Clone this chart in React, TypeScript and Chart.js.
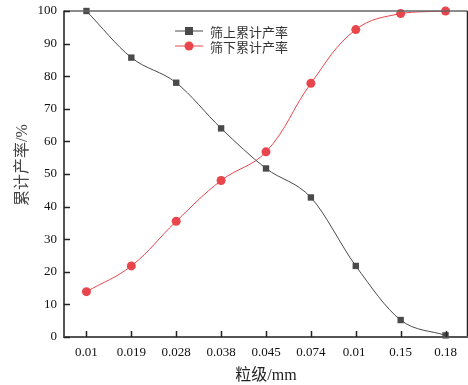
import React, { useEffect, useRef } from "react";
import { Chart, registerables } from "chart.js";

Chart.register(...registerables);

const categories = ["0.01", "0.019", "0.028", "0.038", "0.045", "0.074", "0.01 ", "0.15", "0.18"];
const upperLabel = "筛上累计产率";
const lowerLabel = "筛下累计产率";
const yTitle = "累计产率/%";
const xTitle = "粒级/mm";
const upperValues = [100, 85.7, 78, 64, 51.7, 42.8, 21.8, 5.2, 0.5];
const lowerValues = [13.9, 21.8, 35.5, 48, 56.8, 77.8, 94.3, 99.2, 100];
const yTicks = [0, 10, 20, 30, 40, 50, 60, 70, 80, 90, 100];

const DARK = "#4a4a4a";
const RED = "#e8464c";
const SERIF_CJK = "'Liberation Serif', 'Noto Sans CJK SC'";

const framePlugin = {
  id: "frame",
  afterDraw(chart: any) {
    const { ctx, chartArea } = chart;
    const { left, top, bottom } = chartArea;
    const right = 467.5;
    const x = chart.scales.x;
    const y = chart.scales.y;
    ctx.save();
    ctx.lineWidth = 1.5;
    ctx.strokeStyle = "#666";
    ctx.beginPath();
    ctx.moveTo(left, top);
    ctx.lineTo(right, top);
    ctx.stroke();
    ctx.strokeStyle = "#222";
    ctx.beginPath();
    ctx.moveTo(right, top);
    ctx.lineTo(right, bottom);
    ctx.stroke();
    ctx.lineWidth = 2;
    ctx.strokeStyle = "#555";
    ctx.beginPath();
    ctx.moveTo(left, top - 0.5);
    ctx.lineTo(left, bottom);
    ctx.lineTo(right + 0.5, bottom);
    ctx.stroke();
    ctx.lineWidth = 1.5;
    ctx.strokeStyle = "#222";
    yTicks.forEach((v) => {
      const py = Math.round(y.getPixelForValue(v)) + 0.5;
      ctx.beginPath();
      ctx.moveTo(left, py);
      ctx.lineTo(left + 6, py);
      ctx.stroke();
    });
    categories.forEach((_, i) => {
      const px = Math.round(x.getPixelForValue(i)) + 0.5;
      ctx.beginPath();
      ctx.moveTo(px, bottom);
      ctx.lineTo(px, bottom - 6);
      ctx.stroke();
    });
    ctx.save();
    ctx.translate(23, 165);
    ctx.rotate(-Math.PI / 2);
    ctx.fillStyle = "#444";
    ctx.font = `16px ${SERIF_CJK}`;
    ctx.textAlign = "center";
    ctx.textBaseline = "middle";
    ctx.fillText(yTitle, 0, 0);
    ctx.restore();
    const items = [
      { label: upperLabel, color: DARK, shape: "rect" },
      { label: lowerLabel, color: RED, shape: "circle" },
    ];
    items.forEach((it, i) => {
      const ly = 31 + i * 15;
      ctx.strokeStyle = it.color;
      ctx.lineWidth = 1;
      ctx.beginPath();
      ctx.moveTo(175, ly);
      ctx.lineTo(203, ly);
      ctx.stroke();
      ctx.fillStyle = it.color;
      if (it.shape === "rect") {
        ctx.fillRect(185, ly - 4, 8, 8);
      } else {
        ctx.beginPath();
        ctx.arc(189, ly, 4.5, 0, Math.PI * 2);
        ctx.fill();
      }
      ctx.fillStyle = "#333";
      ctx.font = "13px 'Noto Sans CJK SC'";
      ctx.textBaseline = "middle";
      ctx.textAlign = "left";
      ctx.fillText(it.label, 210, ly + 1);
    });
    ctx.restore();
  },
};

export default function App() {
  const ref = useRef<HTMLCanvasElement>(null);
  useEffect(() => {
    if (!ref.current) return;
    const chart = new Chart(ref.current, {
      type: "line",
      data: {
        labels: categories,
        datasets: [
          {
            label: upperLabel,
            data: upperValues,
            borderColor: DARK,
            backgroundColor: DARK,
            borderWidth: 1,
            pointStyle: "rect",
            pointRadius: 4.5,
            pointBorderWidth: 0,
            cubicInterpolationMode: "monotone",
            clip: false,
          },
          {
            label: lowerLabel,
            data: lowerValues,
            borderColor: RED,
            backgroundColor: RED,
            borderWidth: 1,
            pointStyle: "circle",
            pointRadius: 4.5,
            pointBorderWidth: 0,
            tension: 0.4,
            clip: false,
          },
        ],
      },
      options: {
        animation: false,
        responsive: false,
        layout: { autoPadding: false, padding: { left: 0, right: -0.5, top: 11, bottom: 0 } },
        plugins: { legend: { display: false }, tooltip: { enabled: false } },
        scales: {
          x: {
            type: "category",
            offset: true,
            grid: { display: false, drawTicks: false },
            border: { display: false },
            ticks: {
              color: "#111",
              font: { family: "'Liberation Serif'", size: 13 },
              padding: 8,
              maxRotation: 0,
              autoSkip: false,
            },
            title: {
              display: true,
              text: xTitle,
              color: "#222",
              font: { family: SERIF_CJK, size: 16 },
              padding: { top: 4, bottom: 0 },
            },
            afterFit(scale: any) {
              scale.height = 48;
              scale.paddingLeft = 0;
              scale.paddingRight = 0;
            },
          },
          y: {
            min: 0,
            max: 100,
            grid: { display: false, drawTicks: false },
            border: { display: false },
            ticks: {
              stepSize: 10,
              color: "#111",
              font: { family: "'Liberation Serif'", size: 13 },
              padding: 7,
            },
            title: { display: false },
            afterFit(scale: any) {
              scale.width = 64;
              scale.paddingTop = 0;
              scale.paddingBottom = 0;
            },
          },
        },
      },
      plugins: [framePlugin],
    });
    return () => chart.destroy();
  }, []);
  return (
    <div style={{ position: "fixed", left: 0, top: 0, width: 468, height: 385, background: "#fff" }}>
      <canvas ref={ref} width={468} height={385} />
    </div>
  );
}
